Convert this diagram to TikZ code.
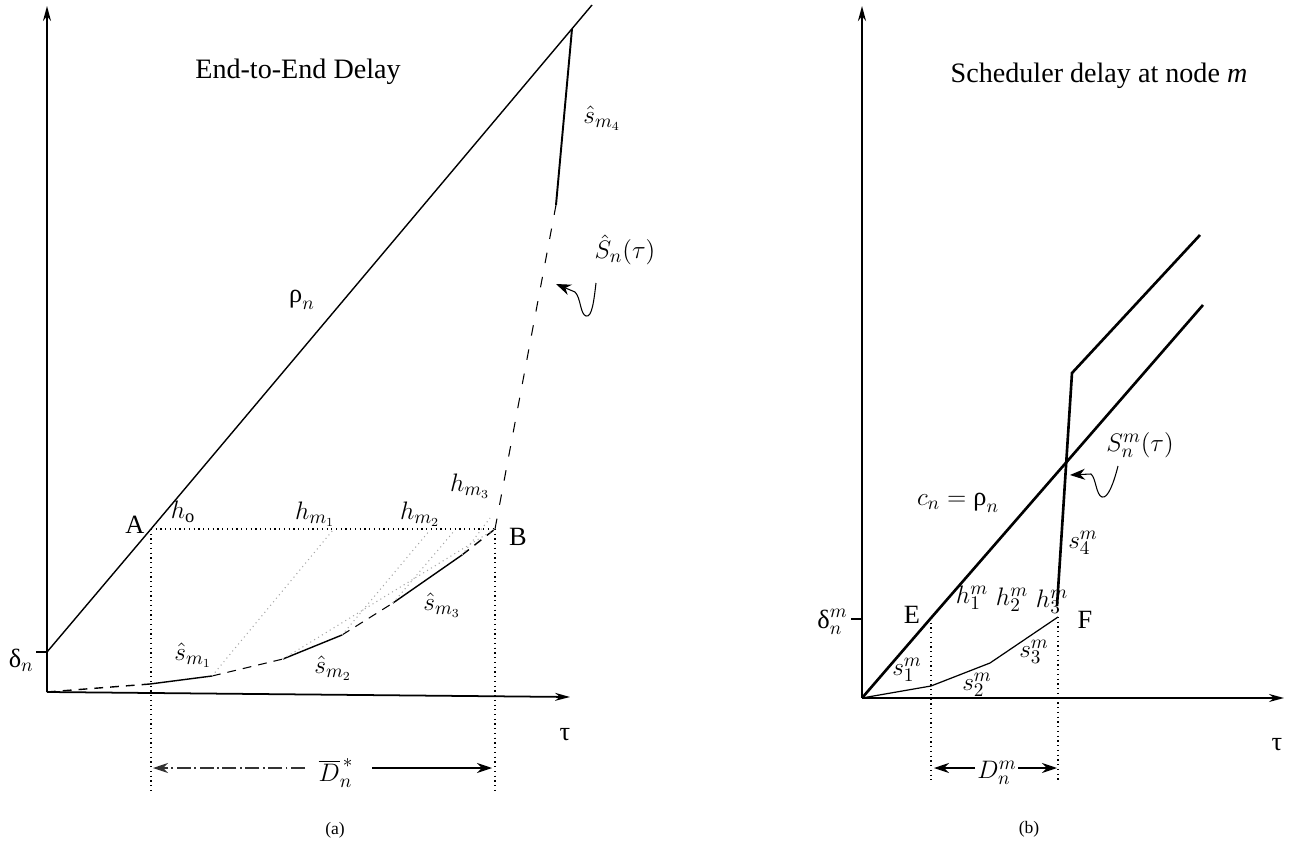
\documentclass[tikz,border=0pt]{standalone}
\usepackage{fontspec}
\setmainfont{Liberation Serif}
\usetikzlibrary{arrows.meta}
\begin{document}
\begin{tikzpicture}[x=0.02cm,y=-0.02cm,
  lbl/.style={inner sep=0pt, font=\fontsize{15}{18}\selectfont},
  ttl/.style={inner sep=0pt, font=\fontsize{16}{19}\selectfont},
  captxt/.style={inner sep=0pt, font=\fontsize{10}{12}\selectfont},
  axis/.style={line width=1pt, -{Stealth[length=0.3cm,width=0.16cm]}},
  thinline/.style={line width=0.8pt},
  thickline/.style={line width=1.5pt},
  dashseg/.style={line width=0.8pt, dash pattern=on 5pt off 4pt},
  longdash/.style={line width=0.6pt, dash pattern=on 6pt off 8pt},
  guide/.style={line width=0.7pt, dotted},
  faint/.style={line width=0.6pt, dotted, black!35},
  darrow/.style={line width=0.7pt, -{Stealth[length=0.3cm,width=0.2cm]}},
  sqarrow/.style={line width=0.6pt, -{Stealth[length=0.3cm,width=0.22cm]}}
]
\useasboundingbox (0,0) rectangle (1289,848);

% ---------------- left panel (a) ----------------
\coordinate (O1) at (47,692);
\coordinate (Y1) at (47,6);
\coordinate (X1) at (570,697);
\coordinate (d1) at (47,652);
\coordinate (d1t) at (36,652);
\coordinate (R1) at (592,5);
\coordinate (A) at (151,529);
\coordinate (B) at (495,529);
\coordinate (P4) at (572,29);
\coordinate (P4b) at (556,205);
\coordinate (c1) at (150,684);
\coordinate (c2) at (212,676);
\coordinate (c3) at (283,659);
\coordinate (c4) at (342,635);
\coordinate (c5) at (393,603);
\coordinate (c6) at (462,555);
\coordinate (Ab) at (151,792);
\coordinate (Bb) at (495,792);
\coordinate (Dl) at (153,768);
\coordinate (Dr) at (492,768);
\coordinate (Dlm) at (305,768);
\coordinate (Drm) at (372,768);

\draw[axis] (O1) -- (Y1);
\draw[axis] (O1) -- (X1);
\draw[thinline] (d1t) -- (d1);
\draw[thinline] (d1) -- (A) -- (R1);

% hat S_n curve
\draw[dashseg] (O1) -- (c1);
\draw[thinline] (c1) -- (c2);
\draw[dashseg, line width=0.6pt] (c2) -- (c3);
\draw[thinline] (c3) -- (c4);
\draw[dashseg, line width=0.6pt] (c4) -- (c5);
\draw[thinline] (c5) -- (c6);
\draw[dashseg] (c6) -- (B);
\draw[longdash] (B) -- (P4b);
\draw[line width=1.1pt] (P4b) -- (P4);

% guides
\draw[guide] (A) -- (B);
\draw[guide] (A) -- (Ab);
\draw[guide] (B) -- (Bb);
\coordinate (f1) at (333,530);
\coordinate (f2) at (430,530);
\coordinate (f3) at (455,530);
\coordinate (f4) at (490,518);
\draw[faint] (c2) -- (f1);
\draw[faint] (c4) -- (f2);
\draw[faint] (c5) -- (f3);
\draw[faint] (c6) -- (f4);
\draw[faint] (c3) -- (B);

% D bar arrows
\draw[darrow, dash pattern=on 8pt off 2pt on 1pt off 2pt, black!80] (Dlm) -- (Dl);
\draw[darrow] (Drm) -- (Dr);

% labels
\node[ttl] (t1) at (298,72) {End-to-End Delay};
\node[lbl] (rho) at (302,300) {$\mbox{ρ}_n$};
\node[lbl, anchor=east] (dl) at (34,660) {$\mbox{δ}_n$};
\node[lbl] (tau1) at (565,735) {τ};
\node[lbl] (lA) at (135,525) {A};
\node[lbl] (lB) at (518,537) {B};
\node[lbl] (h0) at (183,512) {$h_{\mathrm{o}}$};
\node[lbl] (hm1) at (315,514) {$h_{m_1}$};
\node[lbl] (hm2) at (420,514) {$h_{m_2}$};
\node[lbl] (hm3) at (470,486) {$h_{m_3}$};
\node[lbl] (sm1) at (193,655) {$\hat{s}_{m_1}$};
\node[lbl] (sm2) at (333,668) {$\hat{s}_{m_2}$};
\node[lbl] (sm3) at (442,605) {$\hat{s}_{m_3}$};
\node[lbl] (sm4) at (602,118) {$\hat{s}_{m_4}$};
\node[lbl] (Sn) at (625,250) {$\hat{S}_n(\tau)$};
\node[lbl] (Dbar) at (336,773) {$\overline{D}_n^{\,*}$};
\node[captxt] (capa) at (335,830) {(a)};

\coordinate (sqS1) at (596,283);
\coordinate (sqB1) at (586,316);
\coordinate (sqM1) at (575,292);
\coordinate (sqT1) at (556,284);
\draw[sqarrow] (sqS1) .. controls (594,300) and (592,318) .. (sqB1) .. controls (580,314) and (581,298) .. (sqM1) -- (sqT1);

% ---------------- right panel (b) ----------------
\coordinate (O2) at (862,698);
\coordinate (Y2) at (862,6);
\coordinate (X2) at (1284,698);
\coordinate (d2) at (862,619);
\coordinate (d2t) at (851,619);
\coordinate (C2) at (1203,305);
\coordinate (E) at (931,618);
\coordinate (F) at (1058,617);
\coordinate (q1) at (931,686);
\coordinate (q2) at (990,663);
\coordinate (V1) at (1057,606);
\coordinate (V2) at (1072,373);
\coordinate (U2) at (1200,235);
\coordinate (Eb) at (931,780);
\coordinate (Fb) at (1058,780);
\coordinate (El) at (934,768);
\coordinate (Fr) at (1057,768);
\coordinate (Elm) at (975,768);
\coordinate (Frm) at (1018,768);

\draw[axis, line width=1.3pt] (O2) -- (Y2);
\draw[axis] (O2) -- (X2);
\draw[thinline] (d2t) -- (d2);
\draw[thickline] (O2) -- (E) -- (C2);
\draw[line width=0.7pt] (O2) -- (q1) -- (q2) -- (F);
\draw[thickline] (V1) -- (V2) -- (U2);
\draw[guide] (E) -- (Eb);
\draw[guide] (F) -- (Fb);
\draw[darrow] (Elm) -- (El);
\draw[darrow] (Frm) -- (Fr);

\node[ttl] (t2) at (1099,76) {Scheduler delay at node \textit{m}};
\node[lbl, anchor=east] (dm) at (848,622) {$\mbox{δ}_n^m$};
\node[lbl] (tau2) at (1277,745) {τ};
\node[lbl] (lE) at (912,615) {E};
\node[lbl] (lF) at (1085,620) {F};
\node[lbl] (cn) at (958,503) {$c_n = \mbox{ρ}_n$};
\node[lbl] (s4) at (1083,543) {$s_4^m$};
\node[lbl] (h1) at (972,598) {$h_1^m$};
\node[lbl] (h2) at (1012,600) {$h_2^m$};
\node[lbl] (h3) at (1052,602) {$h_3^m$};
\node[lbl] (s1) at (907,670) {$s_1^m$};
\node[lbl] (s2) at (977,685) {$s_2^m$};
\node[lbl] (s3) at (1034,652) {$s_3^m$};
\node[lbl] (Snm) at (1140,445) {$S_n^m(\tau)$};
\node[lbl] (Dm) at (997,773) {$D_n^m$};
\node[captxt] (capb) at (1029,829) {(b)};

\coordinate (sqS2) at (1118,466);
\coordinate (sqB2) at (1102,497);
\coordinate (sqM2) at (1091,474);
\coordinate (sqT2) at (1070,475);
\draw[sqarrow] (sqS2) .. controls (1114,482) and (1108,499) .. (sqB2) .. controls (1096,495) and (1096,478) .. (sqM2) -- (sqT2);
\end{tikzpicture}
\end{document}
